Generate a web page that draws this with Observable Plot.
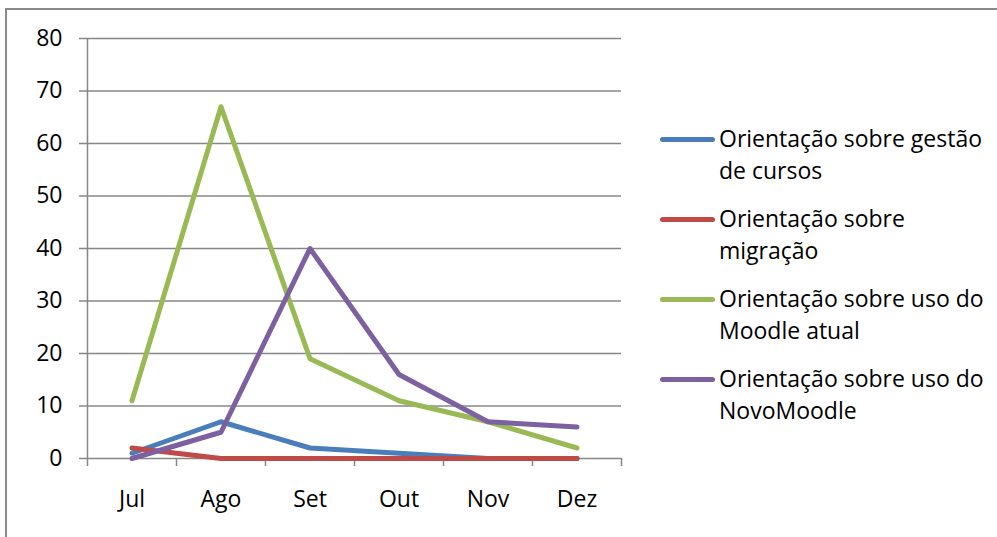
<!DOCTYPE html>
<html>
<head>
<meta charset="utf-8">
<script src="https://cdn.jsdelivr.net/npm/d3@7"></script>
<script src="https://cdn.jsdelivr.net/npm/@observablehq/plot@0.6"></script>
<style>
  html, body { margin: 0; padding: 0; background: #fff; }
  #wrap { position: relative; width: 997px; height: 537px; overflow: hidden; font-family: "Open Sans", Lato, sans-serif; }
  #frame { position: absolute; left: 5px; top: 8px; width: 1100px; height: 700px; border: 2px solid #8a8a8a; box-sizing: border-box; }
  #chart { position: absolute; left: 0; top: 0; }
  #legend { position: absolute; left: 660px; top: 122px; }
  .item { position: relative; height: 80px; }
  .swatch { position: absolute; left: 0; top: 15px; width: 55px; height: 5px; border-radius: 3px; }
  .label { position: absolute; left: 59px; top: 0; font-size: 23px; line-height: 32px; color: #000; white-space: nowrap; }
</style>
</head>
<body>
<div id="wrap">
  <div id="frame"></div>
  <div id="chart"></div>
  <div id="legend"></div>
</div>
<script>
const months = ["Jul", "Ago", "Set", "Out", "Nov", "Dez"];
const seriesNames = [
  "Orientação sobre gestão de cursos",
  "Orientação sobre migração",
  "Orientação sobre uso do Moodle atual",
  "Orientação sobre uso do NovoMoodle"
];
const legendLines = [
  ["Orientação sobre gestão", "de cursos"],
  ["Orientação sobre", "migração"],
  ["Orientação sobre uso do", "Moodle atual"],
  ["Orientação sobre uso do", "NovoMoodle"]
];
const gestao   = [1, 7, 2, 1, 0, 0];
const migracao = [2, 0, 0, 0, 0, 0];
const atual    = [11, 67, 19, 11, 7, 2];
const novo     = [0, 5, 40, 16, 7, 6];
const colors = ["#4A7EBB", "#BE4B48", "#98B954", "#7D60A0"];
const yTicks = [0, 10, 20, 30, 40, 50, 60, 70, 80];

const allSeries = [gestao, migracao, atual, novo];
const data = allSeries.flatMap((vals, s) =>
  vals.map((v, i) => ({series: seriesNames[s], idx: i + 0.5, month: months[i], value: v}))
);
const boundaries = d3.range(0, months.length + 1);
const centers = months.map((m, i) => i + 0.5);

const gray = "#878787";
const chart = Plot.plot({
  width: 997,
  height: 537,
  marginLeft: 87,
  marginRight: 376,
  marginTop: 38,
  marginBottom: 79,
  style: {fontFamily: "'Open Sans', Lato, sans-serif", fontSize: "23px", color: "#000", background: "transparent"},
  x: {domain: [0, months.length]},
  y: {domain: [0, 80]},
  color: {domain: seriesNames, range: colors},
  marks: [
    Plot.gridY(yTicks.filter(d => d > 0), {stroke: gray, strokeOpacity: 1, strokeWidth: 1.5}),
    Plot.ruleY([0], {stroke: gray, strokeWidth: 1.5}),
    Plot.ruleX([0], {stroke: gray, strokeWidth: 1.5}),
    Plot.axisY({ticks: yTicks, tickSize: 8, tickPadding: 17, stroke: gray, strokeOpacity: 1, strokeWidth: 1.5, label: null}),
    Plot.axisX({ticks: boundaries, tickSize: 8, tickFormat: () => "", stroke: gray, strokeOpacity: 1, strokeWidth: 1.5, label: null}),
    Plot.axisX({ticks: centers, tickSize: 0, tickPadding: 32, tickFormat: d => months[Math.round(d - 0.5)], label: null}),
    Plot.line(data, {x: "idx", y: "value", z: "series", stroke: "series", strokeWidth: 5, strokeLinecap: "round", strokeLinejoin: "round"})
  ]
});
document.getElementById("chart").appendChild(chart);

const legend = document.getElementById("legend");
seriesNames.forEach((name, i) => {
  const item = document.createElement("div");
  item.className = "item";
  const sw = document.createElement("div");
  sw.className = "swatch";
  sw.style.background = colors[i];
  const lb = document.createElement("div");
  lb.className = "label";
  lb.innerHTML = legendLines[i].join("<br>");
  item.appendChild(sw);
  item.appendChild(lb);
  legend.appendChild(item);
});
</script>
</body>
</html>
